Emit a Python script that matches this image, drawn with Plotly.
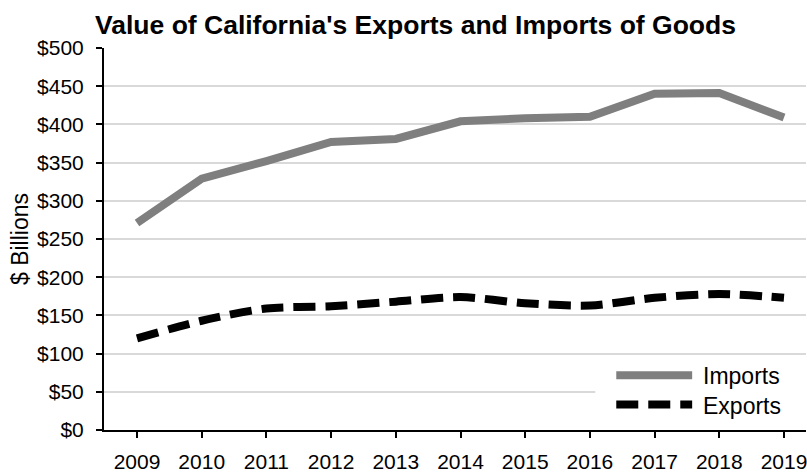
import plotly.graph_objects as go

years = [2009, 2010, 2011, 2012, 2013, 2014, 2015, 2016, 2017, 2018, 2019]
imports = [271, 329, 352, 377, 381, 404, 408, 410, 440, 441, 409]
exports = [120, 143, 159, 162, 168, 174, 166, 163, 173, 178, 173]
y_ticks = [0, 50, 100, 150, 200, 250, 300, 350, 400, 450, 500]

W, H = 807, 473
L, R, T, B = 104, 0, 48, 35
PW, PH = W - L - R, H - T - B

def px2x(px):
    return (px - L) / PW

def px2y(py):
    return (H - B - py) / PH

FONT = "Liberation Sans, Arial, sans-serif"
GRAY = "#7f7f7f"

fig = go.Figure()
fig.add_trace(go.Scatter(x=years, y=imports, mode="lines", name="Imports",
                         line=dict(color=GRAY, width=8), showlegend=False))
fig.add_trace(go.Scatter(x=years, y=exports, mode="lines", name="Exports",
                         line=dict(color="black", width=8, dash="22px,10px",
                                   shape="spline", smoothing=0.8),
                         showlegend=False))

# custom legend (white box, symbols, labels)
shapes = [
    dict(type="rect", xref="paper", yref="paper", layer="above",
         x0=px2x(596), x1=px2x(807), y0=px2y(430), y1=px2y(366),
         fillcolor="white", line=dict(width=0)),
    dict(type="line", xref="paper", yref="paper", layer="above",
         x0=px2x(617), x1=px2x(693), y0=px2y(382), y1=px2y(382),
         line=dict(color=GRAY, width=8)),
    dict(type="line", xref="paper", yref="paper", layer="above",
         x0=px2x(617), x1=px2x(693), y0=px2y(412), y1=px2y(412),
         line=dict(color="black", width=8, dash="22px,10px")),
]
annotations = [
    dict(text="Imports", xref="paper", yref="paper", x=px2x(702), y=px2y(383),
         xanchor="left", yanchor="middle", showarrow=False,
         font=dict(family=FONT, size=23, color="black")),
    dict(text="Exports", xref="paper", yref="paper", x=px2x(702), y=px2y(413),
         xanchor="left", yanchor="middle", showarrow=False,
         font=dict(family=FONT, size=23, color="black")),
]

fig.update_layout(
    width=W, height=H,
    margin=dict(l=L, r=R, t=T, b=B, pad=0),
    paper_bgcolor="white", plot_bgcolor="white",
    font=dict(family=FONT, color="black"),
    title=dict(text="<b>Value of California's Exports and Imports of Goods</b>",
               xref="container", yref="container",
               x=415.5 / W, xanchor="center", y=1 - 25 / H, yanchor="middle",
               font=dict(family=FONT, size=26.5, color="black")),
    shapes=shapes, annotations=annotations,
    showlegend=False,
)
fig.update_xaxes(
    range=[2008.49, 2019.34], tickmode="array", tickvals=years,
    ticktext=[str(y) for y in years],
    showgrid=False, zeroline=False,
    showline=True, linecolor="black", linewidth=2,
    ticks="outside", ticklen=6, tickwidth=2, tickcolor="black",
    tickfont=dict(family=FONT, size=21, color="black"),
    ticklabelstandoff=6, ticklabeloverflow="allow",
)
fig.update_yaxes(
    range=[0, 500], tickmode="array", tickvals=y_ticks,
    ticktext=["$" + str(v) for v in y_ticks],
    showgrid=True, gridcolor="#d9d9d9", gridwidth=2, zeroline=False,
    showline=True, linecolor="black", linewidth=2,
    ticks="outside", ticklen=6, tickwidth=2, tickcolor="black",
    tickfont=dict(family=FONT, size=21, color="black"),
    ticklabelstandoff=8,
    title=dict(text="$ Billions", standoff=2,
               font=dict(family=FONT, size=23, color="black")),
)

fig.write_html("out.html")
